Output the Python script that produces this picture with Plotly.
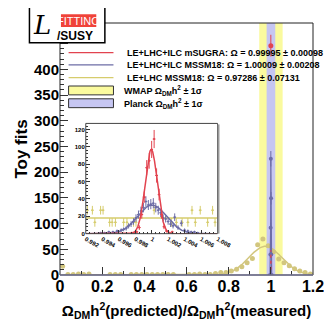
import numpy as np
import plotly.graph_objects as go

# ---------------- data ----------------
# main panel: LE+LHC MSSM18 toy-fit histogram (bin width 0.025)
main_bin_width = 0.025
main_yel_vals = [17, 1, 1, 2, 1, 2, None, None, None, 1, 1, 1, None, 1, 1, 1,
                 1, 1, 1, 1, 1, 1, None, None, 1, 1, 2, 1, 1, 3, 5, 5,
                 8, 11, 16, 24, 32, 59, 70, 57, 45, 31, 24, 18, 12, 8, 5, 2]
# main panel: narrow spikes of the ILC fits
main_blue_x = [0.996, 0.998, 0.999, 1.000, 1.001, 1.002, 1.004]
main_blue_y = [0, 40, 92, 226, 149, 40, 0]
main_red_x = [1.000]
main_red_y = [446]
main_red_tail_x = [0.9995, 1.000, 1.0005]
main_red_tail_y = [10, 48, 10]

# gaussian fit parameters (amplitude, mean, sigma) as drawn
fit_yel_main = [56, 0.974, 0.078]
fit_red_inset = [97, 0.99995, 0.00073]
fit_blue_inset = [33, 1.00005, 0.00175]
fit_yel_inset = [18]

# inset histograms
inset_red_x = [0.9976, 0.9979, 0.9982, 0.9985, 0.9988, 0.9991, 0.9994, 0.9997, 1.0000,
               1.0003, 1.0006, 1.0009, 1.0012, 1.0015, 1.0018, 1.0021, 1.0025]
inset_red_y = [1, 1, 2, 7, 22, 42, 76, 84, 97, 109, 67, 45, 22, 8, 3, 1, 2]
inset_blue_x = [0.9938, 0.9943, 0.9948, 0.9953, 0.9958, 0.9963, 0.9966, 0.9969, 0.9972,
                0.9975, 0.9978, 0.9981, 0.9984, 0.9987, 0.9990, 0.9993, 0.9996, 0.9999,
                1.0002, 1.0005, 1.0008, 1.0011, 1.0014, 1.0017, 1.0020, 1.0023, 1.0026,
                1.0028, 1.0032, 1.0036, 1.0040, 1.0044, 1.0048, 1.0052, 1.0056]
inset_blue_y = [1, 1, 2, 2, 3, 4, 5, 6, 9, 11, 14, 18, 22, 26, 30, 37, 33, 34,
                35, 30, 27, 24, 18, 17, 14, 11, 9, 19, 7, 12, 4, 3, 2, 2, 1]
inset_yel_x = [0.9922, 0.9928, 0.9931, 0.9938, 0.9941, 0.9949, 0.9952, 0.9956, 0.9966,
               0.9970, 0.9978, 0.9981, 1.0003, 1.0024, 1.0030, 1.0037, 1.0044, 1.0049,
               1.0053, 1.0059, 1.0068, 1.0074, 1.0077]
inset_yel_y = [27, 27, 13, 27, 27, 13, 13, 13, 13, 13, 13, 13, 27, 13, 13, 13, 13, 27,
               13, 27, 13, 27, 13]
inset_bin_half = 0.00017

# bands
wmap_band = [0.945, 1.056]
planck_band = [0.980, 1.021]

main_xticks = [0, 0.2, 0.4, 0.6, 0.8, 1.0, 1.2]
main_xticklabels = ["0", "0.2", "0.4", "0.6", "0.8", "1", "1.2"]
main_yticks = [0, 50, 100, 150, 200, 250, 300, 350, 400, 450]
main_yticklabels = ["0", "50", "100", "150", "200", "250", "300", "350", "400", ""]  # 450 hidden by logo
inset_xticks = [0.992, 0.994, 0.996, 0.998, 1.000, 1.002, 1.004, 1.006, 1.008]
inset_xticklabels = ["0.992", "0.994", "0.996", "0.998", "1", "1.002", "1.004", "1.006", "1.008"]
inset_yticks = [0, 20, 40, 60, 80, 100, 120]
inset_yticklabels = ["0", "20", "40", "60", "80", "100", "120"]

legend_labels = [
    "LE+LHC+ILC mSUGRA: \u03a9 = 0.99995 \u00b1 0.00098",
    "LE+LHC+ILC MSSM18: \u03a9 = 1.00009 \u00b1 0.00208",
    "LE+LHC MSSM18: \u03a9 = 0.97286 \u00b1 0.07131",
    "WMAP \u03a9<sub>DM</sub>h<sup>2</sup> \u00b1 1\u03c3",
    "Planck \u03a9<sub>DM</sub>h<sup>2</sup> \u00b1 1\u03c3",
]

# ---------------- styling ----------------
RED = "#e2434f"
BLUE = "#6c6ca6"
YEL_PT = "#d2c67e"
YEL_LINE = "#d6cc6c"
WMAP_FILL = "#fafa9e"
PLANCK_FILL = "#c6c6f2"
FONT = "Liberation Sans"

W, H = 332, 321
ML, MR, MT, MB = 50, 17, 15, 50
PW, PH = W - ML - MR, H - MT - MB


def fx(px):
    return (px - ML) / PW


def fy(py):
    return (H - MB - py) / PH


def gauss(x, p):
    return p[0] * np.exp(-0.5 * ((x - p[1]) / p[2]) ** 2)


fig = go.Figure()

# ---- main panel ----
centers = np.arange(len(main_yel_vals)) * main_bin_width + main_bin_width / 2
xg = np.linspace(0, 1.2, 600)
fig.add_trace(go.Scatter(x=xg, y=gauss(xg, fit_yel_main), mode="lines",
                         line=dict(color=YEL_PT, width=1.5), hoverinfo="skip"))
fig.add_trace(go.Scatter(x=centers, y=main_yel_vals, mode="markers",
                         marker=dict(color=YEL_PT, size=5)))
fig.add_trace(go.Scatter(x=main_blue_x, y=main_blue_y, mode="lines+markers",
                         line=dict(color=BLUE, width=1.2),
                         marker=dict(color=BLUE, size=4),
                         error_y=dict(type="data", array=np.sqrt(main_blue_y), color=BLUE,
                                      thickness=1, width=0)))
fig.add_trace(go.Scatter(x=main_red_tail_x, y=main_red_tail_y, mode="lines",
                         line=dict(color=RED, width=1.2, dash="dot")))
fig.add_trace(go.Scatter(x=main_red_x, y=main_red_y, mode="markers",
                         marker=dict(color=RED, size=5),
                         error_y=dict(type="data", array=np.sqrt(main_red_y), color=RED,
                                      thickness=1, width=0)))

# ---- inset ----
xi = np.linspace(0.992, 1.008, 800)
fig.add_trace(go.Scatter(x=[0.992, 1.008], y=[fit_yel_inset[0]] * 2, mode="lines",
                         line=dict(color=YEL_LINE, width=1.5), xaxis="x2", yaxis="y2"))
fig.add_trace(go.Scatter(x=inset_yel_x, y=inset_yel_y, mode="markers",
                         marker=dict(color=YEL_LINE, size=2),
                         error_x=dict(type="constant", value=inset_bin_half, color=YEL_LINE,
                                      thickness=1, width=0),
                         error_y=dict(type="constant", value=5, color=YEL_LINE,
                                      thickness=1, width=0),
                         xaxis="x2", yaxis="y2"))
fig.add_trace(go.Scatter(x=xi, y=gauss(xi, fit_blue_inset), mode="lines",
                         line=dict(color=BLUE, width=1.5), xaxis="x2", yaxis="y2"))
fig.add_trace(go.Scatter(x=inset_blue_x, y=inset_blue_y, mode="markers",
                         marker=dict(color=BLUE, size=2),
                         error_x=dict(type="constant", value=inset_bin_half, color=BLUE,
                                      thickness=1, width=0),
                         error_y=dict(type="data", array=np.sqrt(inset_blue_y), color=BLUE,
                                      thickness=1, width=0),
                         xaxis="x2", yaxis="y2"))
fig.add_trace(go.Scatter(x=xi, y=gauss(xi, fit_red_inset), mode="lines",
                         line=dict(color=RED, width=1.5), xaxis="x2", yaxis="y2"))
fig.add_trace(go.Scatter(x=inset_red_x, y=inset_red_y, mode="markers",
                         marker=dict(color=RED, size=2),
                         error_x=dict(type="constant", value=inset_bin_half, color=RED,
                                      thickness=1, width=0),
                         error_y=dict(type="data", array=np.sqrt(inset_red_y), color=RED,
                                      thickness=1, width=0),
                         xaxis="x2", yaxis="y2"))

shapes = []
# bands
shapes.append(dict(type="rect", xref="x", yref="y", x0=wmap_band[0], x1=wmap_band[1],
                   y0=0, y1=490, fillcolor=WMAP_FILL, line=dict(width=0), layer="below"))
shapes.append(dict(type="rect", xref="x", yref="y", x0=planck_band[0], x1=planck_band[1],
                   y0=0, y1=490, fillcolor=PLANCK_FILL, line=dict(width=0), layer="below"))
# main frame
shapes.append(dict(type="rect", xref="paper", yref="paper", x0=0, x1=1, y0=0, y1=1,
                   line=dict(color="#222222", width=1)))
shapes.append(dict(type="line", xref="paper", yref="paper", x0=0, x1=1, y0=0, y1=0,
                   line=dict(color="#7a7a9a", width=1.5)))
# inset frame
shapes.append(dict(type="rect", xref="paper", yref="paper", x0=fx(77), x1=fx(215),
                   y0=fy(229), y1=fy(117), line=dict(color="#444444", width=1)))
shapes.append(dict(type="line", xref="paper", yref="paper", x0=fx(216), x1=fx(216),
                   y0=fy(229), y1=fy(118), line=dict(color="#999999", width=2)))

# legend samples
leg_y = [45, 57.5, 70.5, 83.5, 96.5]
for yy, col in zip(leg_y[:3], [RED, BLUE, YEL_LINE]):
    shapes.append(dict(type="line", xref="paper", yref="paper", x0=fx(59), x1=fx(106),
                       y0=fy(yy), y1=fy(yy), line=dict(color=col, width=1.2)))
for yy, col in zip(leg_y[3:], [WMAP_FILL, PLANCK_FILL]):
    shapes.append(dict(type="rect", xref="paper", yref="paper", x0=fx(59), x1=fx(106),
                       y0=fy(yy + 4.5), y1=fy(yy - 4.5), fillcolor=col,
                       line=dict(color="#333333", width=1)))

# logo
shapes.append(dict(type="rect", xref="paper", yref="paper", x0=fx(18), x1=fx(97),
                   y0=fy(35), y1=fy(-2), fillcolor="white",
                   line=dict(color="black", width=1.5), layer="above"))
shapes.append(dict(type="rect", xref="paper", yref="paper", x0=fx(51), x1=fx(88),
                   y0=fy(19), y1=fy(6), fillcolor="#f0433a",
                   line=dict(width=0), layer="above"))

annotations = []
for i, (yy, txt) in enumerate(zip(leg_y, legend_labels)):
    annotations.append(dict(xref="paper", yref="paper", x=fx(118 if i < 3 else 115), y=fy(yy),
                            text=txt, showarrow=False, xanchor="left", yanchor="middle",
                            font=dict(family=FONT, size=9, color="black", weight="bold")))
annotations.append(dict(xref="paper", yref="paper", x=fx(69.5), y=fy(12.5), text="FITTINO",
                        showarrow=False, xanchor="center", yanchor="middle",
                        font=dict(family="Liberation Sans Narrow, " + FONT, size=11,
                                  color="white")))
annotations.append(dict(xref="paper", yref="paper", x=fx(66), y=fy(28), text="/SUSY",
                        showarrow=False, xanchor="center", yanchor="middle",
                        font=dict(family=FONT, size=12, color="black", weight="bold")))
annotations.append(dict(xref="paper", yref="paper", x=fx(31), y=fy(17),
                        text="<i>L</i>", showarrow=False, xanchor="center",
                        yanchor="middle",
                        font=dict(family="DejaVu Serif", size=26, color="black")))

axis_font = dict(family=FONT, size=15, color="black", weight="bold")

fig.update_layout(
    width=W, height=H,
    margin=dict(l=ML, r=MR, t=MT, b=MB, pad=0),
    paper_bgcolor="white", plot_bgcolor="white",
    showlegend=False,
    shapes=shapes,
    annotations=annotations,
    xaxis=dict(domain=[0, 1], range=[0, 1.2], tickvals=main_xticks,
               ticktext=main_xticklabels, ticks="inside", ticklen=8, tickcolor="#333",
               minor=dict(dtick=0.1, tick0=0, ticks="inside", ticklen=4, tickcolor="#333"),
               showgrid=False, zeroline=False, showline=False,
               tickfont=dict(family=FONT, size=16, color="black", weight="bold"),
               title=dict(text="\u03a9<sub>DM</sub>h<sup>2</sup>(predicted)/\u03a9<sub>DM</sub>h<sup>2</sup>(measured)",
                          font=axis_font, standoff=11)),
    yaxis=dict(domain=[0, 1], range=[0, 490], tickvals=main_yticks,
               ticktext=main_yticklabels,
               ticks="inside", ticklen=8, tickcolor="#333",
               minor=dict(dtick=10, ticks="inside", ticklen=4, tickcolor="#333"),
               showgrid=False, zeroline=False, showline=False,
               tickfont=dict(family=FONT, size=15, color="black", weight="bold"),
               title=dict(text="Toy fits", font=dict(family=FONT, size=17, color="black",
                                                      weight="bold"), standoff=2)),
    xaxis2=dict(domain=[fx(77), fx(215)], range=[0.992, 1.008], anchor="y2",
                tickvals=inset_xticks, ticktext=inset_xticklabels, ticks="inside",
                ticklen=4, tickcolor="#333",
                minor=dict(dtick=0.0005, tick0=0.992, ticks="inside", ticklen=2,
                           tickcolor="#333"),
                showgrid=False, zeroline=False, showline=False,
                tickfont=dict(family=FONT, size=6, color="black", weight="bold")),
    yaxis2=dict(domain=[fy(229), fy(117)], range=[0, 127], anchor="x2",
                tickvals=inset_yticks, ticktext=inset_yticklabels,
                ticks="inside", ticklen=4, tickcolor="#333",
                minor=dict(dtick=4, ticks="inside", ticklen=2, tickcolor="#333"),
                showgrid=False, zeroline=False, showline=False,
                tickfont=dict(family=FONT, size=6, color="black", weight="bold")),
)

fig.write_html("out.html")
